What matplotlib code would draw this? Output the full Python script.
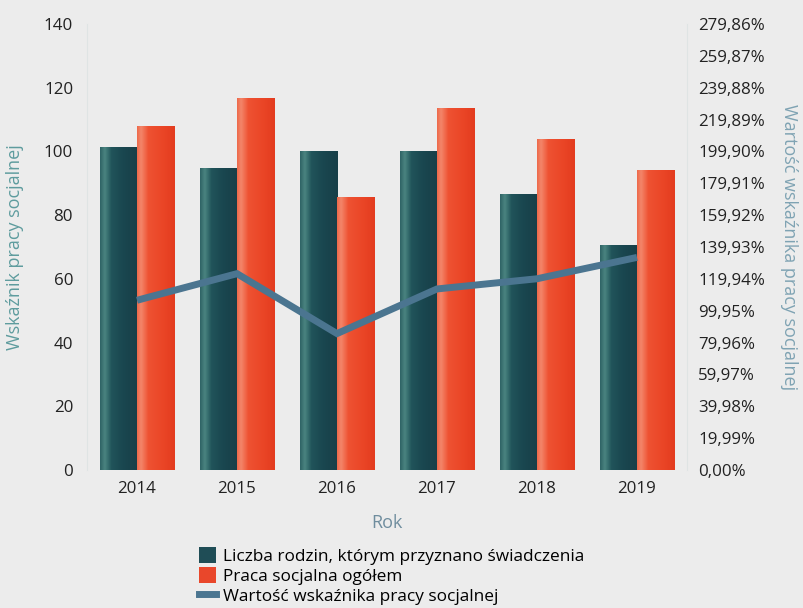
import numpy as np
import matplotlib
matplotlib.use("Agg")
import matplotlib.pyplot as plt
from matplotlib.colors import LinearSegmentedColormap
from matplotlib.ticker import FixedLocator, FixedFormatter
from matplotlib.patches import Patch
from matplotlib.lines import Line2D

plt.rcParams['font.family'] = ['Open Sans', 'DejaVu Sans']

# data
years = ["2014", "2015", "2016", "2017", "2018", "2019"]
families = [101.5, 94.9, 100.1, 100.0, 86.6, 70.6]
social_work = [108.1, 116.9, 85.7, 113.6, 103.9, 94.2]
indicator = [106.5, 123.2, 85.6, 113.6, 120.0, 133.4]   # percent
right_ticks = [0.00, 19.99, 39.98, 59.97, 79.96, 99.95, 119.94, 139.93,
               159.92, 179.91, 199.90, 219.89, 239.88, 259.87, 279.86]
labels = ["Liczba rodzin, którym przyznano świadczenia", "Praca socjalna ogółem",
          "Wartość wskaźnika pracy socjalnej"]

bg = "#ececec"
teal = "#1f4d56"
red = "#e9472b"
line_col = "#4b7590"

# cylinder-like shading of the bars
teal_cmap = LinearSegmentedColormap.from_list(
    "t", [(0, "#2f6466"), (0.12, "#4a8480"), (0.3, "#21545a"), (0.6, "#1a4750"), (1, "#173f48")])
red_cmap = LinearSegmentedColormap.from_list(
    "r", [(0, "#ee6a4a"), (0.1, "#f3866a"), (0.3, "#ee5232"), (0.7, "#ea4526"), (1, "#e33c1f")])


def shade(ax, bars, cmap):
    grad = np.linspace(0, 1, 64).reshape(1, -1)
    for b in bars:
        b.set_facecolor("none")
        x0, y0 = b.get_x(), b.get_y()
        im = ax.imshow(grad, cmap=cmap, aspect='auto', zorder=2,
                       extent=(x0, x0 + b.get_width(), y0, y0 + b.get_height()))
        im.set_clip_path(b)


fig = plt.figure(figsize=(8.04, 6.08), dpi=100, facecolor=bg)
ax = fig.add_axes([87/804, 1-470/608, 600/804, 446/608], facecolor=bg)

x = np.arange(len(years))
w = 0.375
b1 = ax.bar(x - w/2, families, w, color=teal, zorder=2)
b2 = ax.bar(x + w/2, social_work, w, color=red, zorder=2)
shade(ax, b1, teal_cmap)
shade(ax, b2, red_cmap)
ax.set_xlim(-0.5, len(years) - 0.5)
ax.set_ylim(0, 140)
ax.set_yticks(range(0, 141, 20))
ax.set_xticks(x)
ax.set_xticklabels(years)

ax2 = ax.twinx()
ax2.plot(x, indicator, color=line_col, lw=5, solid_capstyle='butt',
         solid_joinstyle='miter', zorder=3)
ax2.set_ylim(0, 279.86)
ax2.yaxis.set_major_locator(FixedLocator(right_ticks))
ax2.yaxis.set_major_formatter(FixedFormatter([f"{v:.2f}%".replace(".", ",") for v in right_ticks]))

for a in (ax, ax2):
    for s in a.spines.values():
        s.set_visible(False)
    a.tick_params(length=0, labelsize=12.2, colors="#222222")
ax.spines['left'].set_visible(True)
ax.spines['left'].set_color("#dfe4e4")
ax2.spines['right'].set_visible(True)
ax2.spines['right'].set_color("#dfe4e4")
ax.tick_params(axis='y', pad=10)
ax.tick_params(axis='x', pad=8)
ax2.tick_params(axis='y', pad=8)

ax.set_ylabel("Wskaźnik pracy socjalnej", color="#5e9c9e", fontsize=13, labelpad=14)
ax2.set_ylabel("Wartość wskaźnika pracy socjalnej", color="#7fa3b3", fontsize=13,
               rotation=270, labelpad=24)
ax.set_xlabel("Rok", color="#6f8d9e", fontsize=13, labelpad=12)

handles = [Patch(facecolor=teal), Patch(facecolor=red), Line2D([], [], color=line_col, lw=5)]
fig.legend(handles, labels, loc='upper left', bbox_to_anchor=(192/804, 1-540/608),
           frameon=False, fontsize=12.4, handlelength=1.0, handleheight=1.1,
           handletextpad=0.4, labelspacing=0.1, borderaxespad=0)

fig.savefig("out.png", dpi=100, facecolor=bg)
